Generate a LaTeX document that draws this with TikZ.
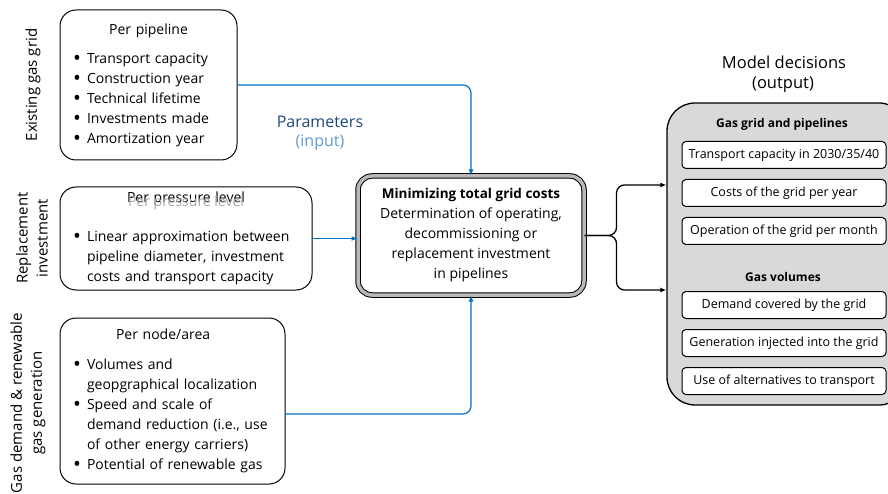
\documentclass[tikz,border=0pt]{standalone}
\usepackage{fontspec}
\setmainfont{Open Sans}
\usepackage{xcolor}
\usetikzlibrary{positioning,arrows.meta}

\definecolor{parblue}{RGB}{31,73,125}
\definecolor{inblue}{RGB}{91,155,213}
\definecolor{lnblue}{RGB}{0,112,192}
\definecolor{outgray}{RGB}{217,217,217}

\newcommand{\bitem}[1]{\par\noindent\hangindent=14pt\hangafter=1%
    \makebox[14pt][l]{\raisebox{-2.2pt}{\scalebox{1.5}{\textbullet}}}#1\par}
\newcommand{\btitle}[1]{\makebox[\linewidth]{#1}\par}

\begin{document}
\begin{tikzpicture}[x=1pt, y=-1pt,
    inbox/.style={draw, line width=1pt, rounded corners=16pt, align=left, inner xsep=13pt, inner ysep=0pt,
        font=\fontsize{14}{20}\selectfont},
    sidelabel/.style={rotate=90, align=center, font=\fontsize{15}{20}\selectfont},
    outitem/.style={draw, fill=white, line width=1pt, rounded corners=4pt, minimum width=204pt, minimum height=27pt,
        inner sep=0pt, font=\fontsize{12.5}{15}\selectfont},
    blueline/.style={draw=lnblue, line width=1.2pt, rounded corners=8pt, -{Latex[length=6pt,width=5pt]}},
    blackline/.style={draw=black, line width=1.3pt, rounded corners=8pt, -{Latex[length=6pt,width=5pt]}}]
    \useasboundingbox (0,0) rectangle (888,494);

    % input boxes
    \node[inbox, minimum width=177pt, minimum height=150pt, text width=151pt] (pipeline) at (148.5,85) {%
        \btitle{Per pipeline}\vspace{9pt}
        \bitem{Transport capacity}
        \bitem{Construction year}
        \bitem{Technical lifetime}
        \bitem{Investments made}
        \bitem{Amortization year}};
    \node[inbox, minimum width=252pt, minimum height=103pt, text width=226pt] (pressure) at (186,238.5) {%
        \btitle{Per pressure level}\vspace{19pt}
        \bitem{Linear approximation between\newline pipeline diameter, investment\newline costs and transport capacity}};
    \node[text=gray!70, font=\fontsize{14}{20}\selectfont] (pressureshadow) at (186,203) {Per pressure level};
    \node[inbox, minimum width=225pt, minimum height=166pt, text width=199pt] (area) at (172.5,401) {%
        \hspace*{43pt}Per node/area\par\vspace{10pt}
        \bitem{Volumes and\newline geopgraphical localization}
        \bitem{Speed and scale of\newline demand reduction (i.e., use\newline of other energy carriers)}
        \bitem{Potential of renewable gas}};

    \node[sidelabel] (lexist) at (33,85) {Existing gas grid};
    \node[sidelabel] (lrepl) at (32,238) {Replacement\\investment};
    \node[sidelabel] (ldemand) at (28,403) {Gas demand \& renewable\\gas generation};

    \node[text=parblue, font=\fontsize{16}{20}\selectfont] (params) at (320,122) {Parameters};
    \node[text=inblue, font=\fontsize{16}{20}\selectfont] (input) at (320,143) {(input)};

    % optimisation
    \node[draw, double=gray!55, double distance=3.5pt, line width=1pt, rounded corners=14pt,
        minimum width=226pt, minimum height=119pt, inner sep=0pt, align=center,
        font=\fontsize{14}{20}\selectfont] (central) at (471,235.5) {%
        {\bfseries\fontsize{13.5}{20}\selectfont Minimizing total grid costs}\\
        Determination of operating,\\ decommissioning or\\ replacement investment\\ in pipelines};

    % outputs
    \node[font=\fontsize{16.5}{20}\selectfont] (model) at (784,62) {Model decisions};
    \node[font=\fontsize{16.5}{20}\selectfont] (output) at (783,85) {(output)};
    \node[draw, fill=outgray, line width=1.3pt, rounded corners=28pt, minimum width=240pt, minimum height=302pt]
        (decisions) at (787,254) {};
    \node[font=\bfseries\fontsize{12}{15}\selectfont] (gridhead) at (782,124) {Gas grid and pipelines};
    \node[outitem] (capacity) at (784,155) {Transport capacity in 2030/35/40};
    \node[outitem, below=10pt of capacity] (costs) {Costs of the grid per year};
    \node[outitem, below=10pt of costs] (operation) {Operation of the grid per month};
    \node[font=\bfseries\fontsize{12}{15}\selectfont] (volhead) at (783,277) {Gas volumes};
    \node[outitem] (demand) at (784,305) {Demand covered by the grid};
    \node[outitem, below=10pt of demand] (generation) {Generation injected into the grid};
    \node[outitem, below=10pt of generation] (alternatives) {Use of alternatives to transport};

    % connectors
    \draw[blueline] (pipeline.east) -| (central.north);
    \draw[blueline] (pressure.east) -- (pressure.east -| central.west);
    \draw[blueline] ([yshift=-13pt]area.east) -| (central.south);
    \coordinate (fork) at ([xshift=32pt]central.east);
    \draw[blackline] (central.east) -- (fork) |- ([yshift=69pt]decisions.west);
    \draw[blackline] (central.east) -- (fork) |- ([yshift=-36pt]decisions.west);
\end{tikzpicture}
\end{document}
